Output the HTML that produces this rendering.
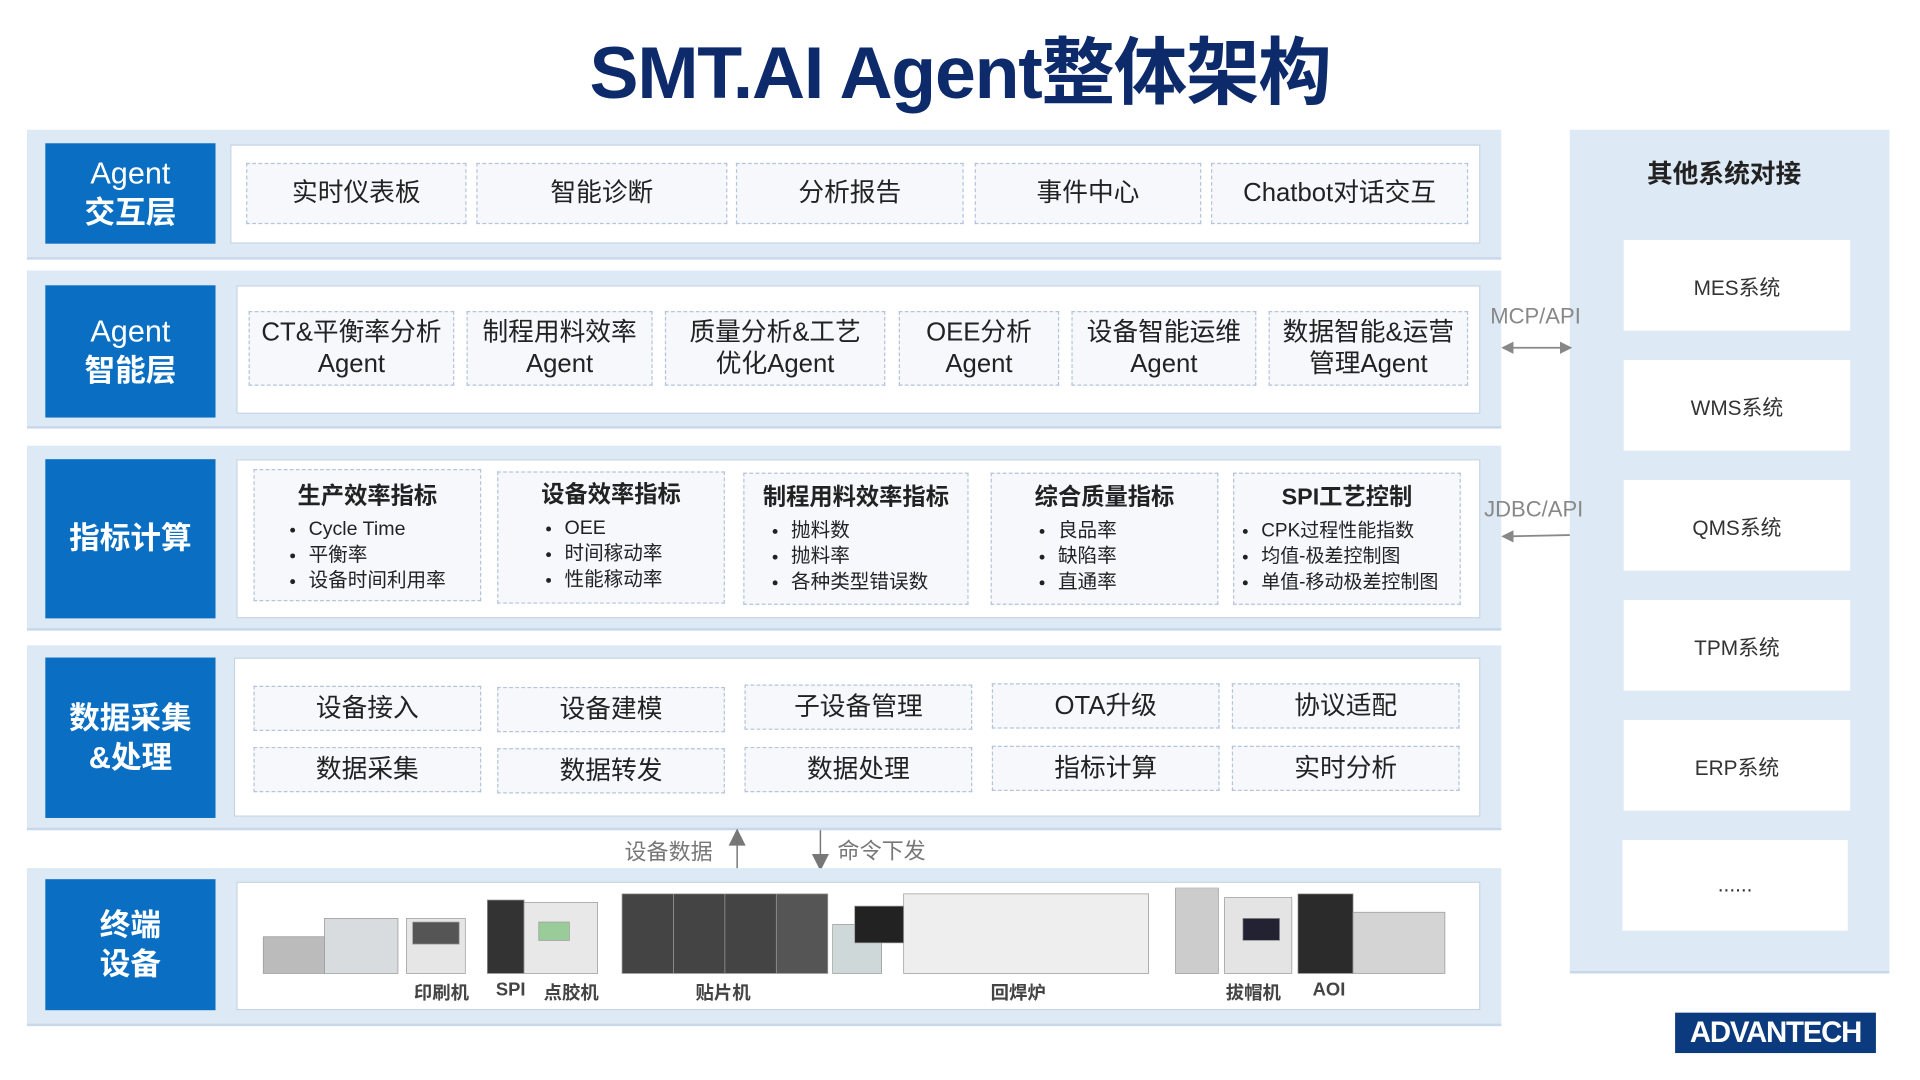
<!DOCTYPE html>
<html><head><meta charset="utf-8">
<style>
html,body{margin:0;padding:0;background:#fff;width:1920px;height:1080px;overflow:hidden}
#s{position:absolute;left:0;top:0;width:1568px;height:882px;transform:scale(1.22449);transform-origin:0 0;font-family:"Liberation Sans","Noto Sans CJK SC",sans-serif;color:#222}
.a{position:absolute;box-sizing:border-box}
.band{background:#dde9f5;border-bottom:2px solid #c8d8ea}
.lab{background:#0a6fc2;color:#fff;font-weight:bold;font-size:25px;line-height:32px;display:flex;align-items:center;justify-content:center;text-align:center}
.lab.n{font-weight:normal}
.inner{background:#fff;border:1px solid #c5d3e4}
.it{border:1.5px dashed #b4c4da;background:#f6f8fc;display:flex;align-items:center;justify-content:center;text-align:center;font-size:21px;line-height:26px;color:#222}
.m{border:1.5px dashed #b4c4da;background:#f6f8fc;font-size:16px;line-height:21px}
.m b{display:block;text-align:center;font-size:19px;margin:11px 0 6px}
.m ul{margin:0;padding-left:44px}
.sys{background:#fff;display:flex;align-items:center;justify-content:center;font-size:17px;color:#333}
.ml{font-size:15px;font-weight:bold;color:#444;position:absolute;top:800px}
</style></head><body><div id="s">
<div class="a" style="left:0;top:22px;width:1568px;text-align:center;font-size:60px;font-weight:bold;color:#0d2a6b;line-height:76px;letter-spacing:-1px">SMT.AI Agent整体架构</div>

<!-- row1 -->
<div class="a band" style="left:22px;top:106px;width:1204px;height:106px"></div>
<div class="a lab n" style="left:37px;top:117px;width:139px;height:82px"><div>Agent<br><b>交互层</b></div></div>
<div class="a inner" style="left:188px;top:118px;width:1021px;height:81px"></div>
<div class="a it" style="left:201px;top:133px;width:180px;height:50px">实时仪表板</div>
<div class="a it" style="left:389px;top:133px;width:205px;height:50px">智能诊断</div>
<div class="a it" style="left:601px;top:133px;width:186px;height:50px">分析报告</div>
<div class="a it" style="left:796px;top:133px;width:185px;height:50px">事件中心</div>
<div class="a it" style="left:989px;top:133px;width:210px;height:50px">Chatbot对话交互</div>

<!-- row2 -->
<div class="a band" style="left:22px;top:221px;width:1204px;height:129px"></div>
<div class="a lab n" style="left:37px;top:233px;width:139px;height:108px"><div>Agent<br><b>智能层</b></div></div>
<div class="a inner" style="left:193px;top:233px;width:1016px;height:105px"></div>
<div class="a it" style="left:203px;top:254px;width:168px;height:61px">CT&amp;平衡率分析<br>Agent</div>
<div class="a it" style="left:381px;top:254px;width:152px;height:61px">制程用料效率<br>Agent</div>
<div class="a it" style="left:543px;top:254px;width:180px;height:61px">质量分析&amp;工艺<br>优化Agent</div>
<div class="a it" style="left:734px;top:254px;width:131px;height:61px">OEE分析<br>Agent</div>
<div class="a it" style="left:875px;top:254px;width:151px;height:61px">设备智能运维<br>Agent</div>
<div class="a it" style="left:1036px;top:254px;width:163px;height:61px">数据智能&amp;运营<br>管理Agent</div>

<!-- row3 -->
<div class="a band" style="left:22px;top:364px;width:1204px;height:151px"></div>
<div class="a lab" style="left:37px;top:375px;width:139px;height:130px">指标计算</div>
<div class="a inner" style="left:193px;top:375px;width:1016px;height:130px"></div>
<div class="a m" style="left:207px;top:383px;width:186px;height:108px"><b>生产效率指标</b><ul><li>Cycle Time</li><li>平衡率</li><li>设备时间利用率</li></ul></div>
<div class="a m" style="left:406px;top:385px;width:186px;height:108px"><b style="margin-top:8px">设备效率指标</b><ul style="padding-left:54px"><li>OEE</li><li>时间稼动率</li><li>性能稼动率</li></ul></div>
<div class="a m" style="left:607px;top:386px;width:184px;height:108px"><b style="margin-top:9px">制程用料效率指标</b><ul style="padding-left:38px"><li>抛料数</li><li>抛料率</li><li>各种类型错误数</li></ul></div>
<div class="a m" style="left:809px;top:386px;width:186px;height:108px"><b style="margin-top:9px">综合质量指标</b><ul style="padding-left:54px"><li>良品率</li><li>缺陷率</li><li>直通率</li></ul></div>
<div class="a m" style="left:1007px;top:386px;width:186px;height:108px;font-size:15.5px"><b style="margin-top:9px">SPI工艺控制</b><ul style="padding-left:22px"><li>CPK过程性能指数</li><li>均值-极差控制图</li><li>单值-移动极差控制图</li></ul></div>

<!-- row4 -->
<div class="a band" style="left:22px;top:527px;width:1204px;height:151px"></div>
<div class="a lab" style="left:37px;top:537px;width:139px;height:131px"><div>数据采集<br>&amp;处理</div></div>
<div class="a inner" style="left:191px;top:537px;width:1018px;height:130px"></div>
<div class="a it" style="left:207px;top:560px;width:186px;height:37px">设备接入</div>
<div class="a it" style="left:406px;top:561px;width:186px;height:37px">设备建模</div>
<div class="a it" style="left:608px;top:559px;width:186px;height:37px">子设备管理</div>
<div class="a it" style="left:810px;top:558px;width:186px;height:37px">OTA升级</div>
<div class="a it" style="left:1006px;top:558px;width:186px;height:37px">协议适配</div>
<div class="a it" style="left:207px;top:610px;width:186px;height:37px">数据采集</div>
<div class="a it" style="left:406px;top:611px;width:186px;height:37px">数据转发</div>
<div class="a it" style="left:608px;top:610px;width:186px;height:37px">数据处理</div>
<div class="a it" style="left:810px;top:609px;width:186px;height:37px">指标计算</div>
<div class="a it" style="left:1006px;top:609px;width:186px;height:37px">实时分析</div>

<!-- arrows between -->
<div class="a" style="left:510px;top:682px;font-size:18px;color:#777">设备数据</div>
<div class="a" style="left:684px;top:681px;font-size:18px;color:#777">命令下发</div>
<svg class="a" style="left:590px;top:676px" width="95" height="36"><path d="M12 34V6M6 14L12 2L18 14Z" stroke="#777" fill="#777" stroke-width="1.2"/><path d="M80 2V30M74 22L80 34L86 22Z" stroke="#777" fill="#777" stroke-width="1.2"/></svg>

<!-- row5 -->
<div class="a band" style="left:22px;top:709px;width:1204px;height:129px"></div>
<div class="a lab" style="left:37px;top:718px;width:139px;height:107px"><div>终端<br>设备</div></div>
<div class="a inner" style="left:193px;top:720px;width:1016px;height:105px"></div>
<svg class="a" style="left:210px;top:725px" width="975" height="75">
<g fill="#d8dcdf" stroke="#999" stroke-width="0.6">
<rect x="5" y="40" width="50" height="30" fill="#bbb"/>
<rect x="55" y="25" width="60" height="45"/>
<rect x="122" y="25" width="48" height="45" fill="#e6e6e6"/><rect x="127" y="28" width="38" height="18" fill="#555"/>
<rect x="188" y="10" width="30" height="60" fill="#333"/>
<rect x="218" y="12" width="60" height="58" fill="#e8e8e8"/><rect x="230" y="28" width="25" height="15" fill="#9c9"/>
<rect x="298" y="5" width="42" height="65" fill="#444"/>
<rect x="340" y="5" width="42" height="65" fill="#444"/>
<rect x="382" y="5" width="42" height="65" fill="#444"/>
<rect x="424" y="5" width="42" height="65" fill="#555"/>
<rect x="470" y="30" width="40" height="40" fill="#cfd8d8"/>
<rect x="488" y="15" width="40" height="30" fill="#222"/>
<rect x="528" y="5" width="200" height="65" fill="#eee"/>
<rect x="750" y="0" width="35" height="70" fill="#ccc"/>
<rect x="790" y="8" width="55" height="62" fill="#e4e4e4"/><rect x="805" y="25" width="30" height="18" fill="#223"/>
<rect x="850" y="5" width="45" height="65" fill="#2b2b2b"/>
<rect x="895" y="20" width="75" height="50" fill="#d4d4d4"/>
</g></svg>
<div class="ml" style="left:338px">印刷机</div>
<div class="ml" style="left:405px">SPI</div>
<div class="ml" style="left:444px">点胶机</div>
<div class="ml" style="left:568px">贴片机</div>
<div class="ml" style="left:809px">回焊炉</div>
<div class="ml" style="left:1001px">拔帽机</div>
<div class="ml" style="left:1072px">AOI</div>

<!-- right -->
<div class="a band" style="left:1282px;top:106px;width:261px;height:689px"></div>
<div class="a" style="left:1282px;top:126px;width:252px;text-align:center;font-size:21px;font-weight:bold;color:#222">其他系统对接</div>
<div class="a sys" style="left:1326px;top:196px;width:185px;height:74px">MES系统</div>
<div class="a sys" style="left:1326px;top:294px;width:185px;height:74px">WMS系统</div>
<div class="a sys" style="left:1326px;top:392px;width:185px;height:74px">QMS系统</div>
<div class="a sys" style="left:1326px;top:490px;width:185px;height:74px">TPM系统</div>
<div class="a sys" style="left:1326px;top:588px;width:185px;height:74px">ERP系统</div>
<div class="a sys" style="left:1325px;top:686px;width:184px;height:74px">......</div>

<div class="a" style="left:1217px;top:248px;font-size:18px;color:#888">MCP/API</div>
<div class="a" style="left:1212px;top:406px;font-size:18px;color:#888">JDBC/API</div>
<svg class="a" style="left:1224px;top:274px" width="62" height="172"><path d="M8 10H54" stroke="#888" stroke-width="1.5"/><path d="M2 10L12 5V15Z M60 10L50 5V15Z" fill="#888"/><path d="M8 164L58 163" stroke="#888" stroke-width="1.5"/><path d="M2 164L12 159V169Z" fill="#888"/></svg>

<div class="a" style="left:1368px;top:827px;width:164px;height:33px;background:#0b3a7e;color:#fff;font-weight:bold;font-size:24px;line-height:33px;text-align:center;letter-spacing:-1px">ADVANTECH</div>
</div></body></html>
